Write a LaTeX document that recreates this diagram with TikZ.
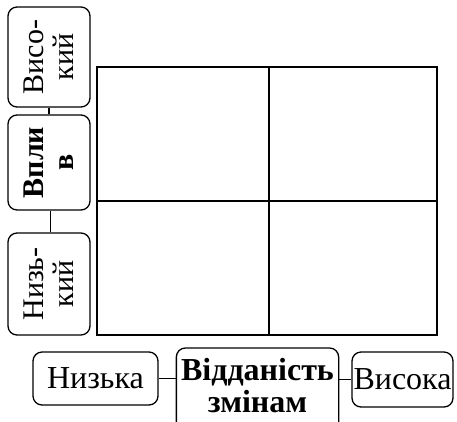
\documentclass[tikz,border=0pt]{standalone}
\usepackage{fontspec}
\setmainfont{Liberation Serif}
\begin{document}
\begin{tikzpicture}[x=1pt,y=-1pt,
  box/.style={draw, line width=1.3pt, rounded corners=9pt, inner sep=0pt, align=center,
    font=\fontsize{32}{30}\selectfont},
  vbox/.style={box, rotate=90, minimum height=82pt, font=\fontsize{30}{30}\selectfont},
  bbox/.style={box, font=\fontsize{32}{33}\selectfont},
  conn/.style={line width=1.3pt},
  gridline/.style={line width=1.8pt}]
\path[use as bounding box, clip] (0,0) rectangle (457,421);
% left axis
\node[vbox, minimum width=100pt] (hi) at (49,57) {Висо-\\кий};
\node[vbox, minimum width=95pt, font=\fontsize{30}{30}\selectfont\bfseries] (vp) at (49,162.5) {Впли\\в};
\node[vbox, minimum width=102pt] (lo) at (49,284) {Низь-\\кий};
\draw[conn] (hi) -- (vp);
\draw[line width=0.9pt, double, double distance=1.2pt] (vp) -- (lo);
% bottom axis
\node[bbox, minimum width=125pt, minimum height=53pt] (nz) at (95.5,378.5) {Низька};
\node[bbox, draw=none, anchor=north, minimum width=161pt, inner ysep=0pt,
  font=\fontsize{32}{32}\selectfont\bfseries] (vd) at (257.5,358) {Відданість\\змінам};
\draw[line width=1.3pt, rounded corners=9pt] ([yshift=10pt]vd.north west) rectangle ([yshift=-40pt]vd.south east);
\node[bbox, minimum width=101pt, minimum height=55pt] (vs) at (402.5,379.5) {Висока};
\draw[conn] (nz.east) -- (nz.east -| vd.west);
\draw[conn] (vs.west) -- (vs.west -| vd.east);
% grid
\draw[gridline] (97,67) rectangle (437,335);
\draw[gridline] (269,67) -- (269,335);
\draw[gridline] (97,201) -- (437,201);
\end{tikzpicture}
\end{document}
